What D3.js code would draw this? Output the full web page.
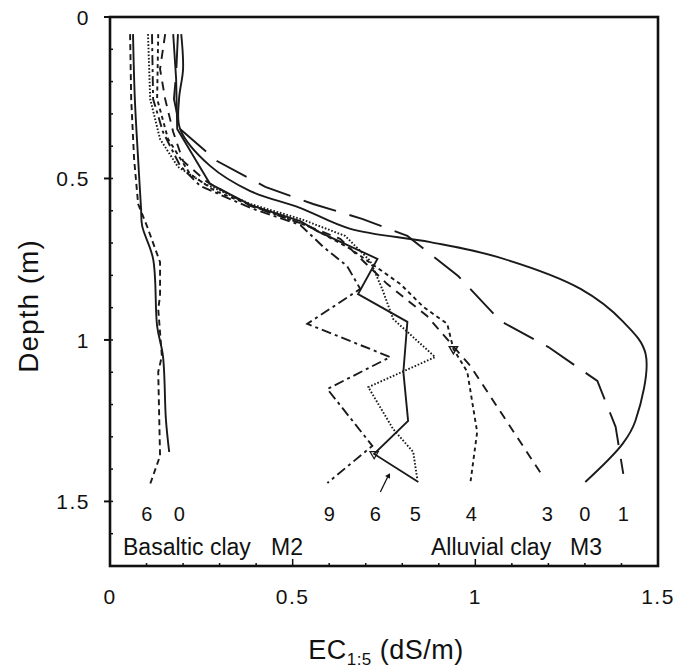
<!DOCTYPE html>
<html>
<head>
<meta charset="utf-8">
<script src="https://cdn.jsdelivr.net/npm/d3@7"></script>
<style>
  body { margin: 0; background: #fff; }
  text { font-family: "Liberation Sans", Arial, sans-serif; fill: #111; }
</style>
</head>
<body>
<div id="chart"></div>
<script>
// =======================
// Data: [EC1:5 (dS/m), depth (m)]
// =======================
const basalt0 = [[0.063,0.053],[0.068,0.254],[0.077,0.44],[0.085,0.594],[0.088,0.647],[0.118,0.749],
  [0.129,0.957],[0.145,1.05],[0.153,1.245],[0.162,1.347]];
const basalt6 = [[0.055,0.053],[0.058,0.254],[0.066,0.44],[0.077,0.579],[0.101,0.647],[0.137,0.759],
  [0.137,0.864],[0.132,0.904],[0.142,1.05],[0.132,1.099],[0.137,1.359],[0.11,1.446]];

const alluv0 = [[0.195,0.053],[0.2,0.161],[0.189,0.254],[0.192,0.347],[0.274,0.461],[0.384,0.539],
  [0.52,0.591],[0.658,0.656],[0.877,0.697],[1.06,0.743],[1.288,0.842],[1.405,0.944],[1.466,1.043],
  [1.438,1.251],[1.403,1.322],[1.301,1.44]];
const alluv1 = [[0.186,0.053],[0.181,0.176],[0.175,0.254],[0.192,0.347],[0.293,0.446],[0.425,0.526],
  [0.556,0.579],[0.69,0.625],[0.814,0.678],[0.953,0.802],[1.068,0.941],[1.2,1.022],[1.334,1.127],
  [1.384,1.269],[1.405,1.415]];
const alluv3 = [[0.151,0.053],[0.137,0.161],[0.151,0.254],[0.173,0.356],[0.2,0.446],[0.266,0.511],
  [0.384,0.585],[0.521,0.638],[0.63,0.687],[0.759,0.827],[0.868,0.926],[0.986,1.08],[1.082,1.245],
  [1.184,1.421]];
const alluv4 = [[0.132,0.053],[0.129,0.254],[0.159,0.378],[0.219,0.486],[0.288,0.539],[0.411,0.594],
  [0.548,0.65],[0.658,0.718],[0.795,0.827],[0.858,0.898],[0.923,0.95],[0.94,1.028],[0.978,1.099],
  [1.005,1.285],[0.986,1.446]];
const alluv5 = [[0.173,0.053],[0.181,0.192],[0.184,0.347],[0.233,0.44],[0.274,0.517],[0.384,0.582],
  [0.521,0.632],[0.567,0.663],[0.732,0.749],[0.679,0.858],[0.814,0.944],[0.803,1.099],[0.816,1.251],
  [0.723,1.353],[0.844,1.44]];
const alluv6 = [[0.104,0.053],[0.11,0.254],[0.137,0.378],[0.186,0.464],[0.26,0.517],[0.384,0.579],
  [0.521,0.625],[0.644,0.678],[0.712,0.755],[0.745,0.842],[0.775,0.935],[0.89,1.053],[0.707,1.146],
  [0.775,1.276],[0.83,1.347],[0.841,1.43]];
const alluv9 = [[0.115,0.053],[0.118,0.254],[0.145,0.356],[0.192,0.461],[0.247,0.523],[0.384,0.591],
  [0.521,0.644],[0.584,0.712],[0.649,0.771],[0.685,0.842],[0.54,0.95],[0.767,1.053],[0.595,1.152],
  [0.718,1.328],[0.595,1.443]];

// curve end labels (text, EC position)
const endLabels = [["6",0.101],["0",0.19],["9",0.6],["6",0.726],["5",0.836],["4",0.989],["3",1.197],["0",1.3],["1",1.405]];
const xTicks = [0, 0.5, 1, 1.5];
const yTicks = [0, 0.5, 1, 1.5];

// =======================
// Setup
// =======================
const width = 681, height = 668;
const svg = d3.select("#chart").append("svg")
  .attr("width", width).attr("height", height);

const x = d3.scaleLinear().domain([0, 1.5]).range([110, 658]);
const y = d3.scaleLinear().domain([0, 1.7]).range([17, 566]);

const line = d3.line().x(d => x(d[0])).y(d => y(d[1]));
const smooth = d3.line().x(d => x(d[0])).y(d => y(d[1])).curve(d3.curveCatmullRom.alpha(0.5));

// styles per series
const series = [
  { data: basalt0, dash: null, gen: smooth },
  { data: basalt6, dash: "6,4", gen: line },
  { data: alluv0, dash: null, gen: smooth },
  { data: alluv1, dash: "34,14", gen: line },
  { data: alluv3, dash: "9,7", gen: line },
  { data: alluv4, dash: "4,3.5", gen: line },
  { data: alluv5, dash: null, gen: line },
  { data: alluv6, dash: "1.6,1.8", gen: line },
  { data: alluv9, dash: "10,4,3,4", gen: line }
];

svg.append("g").selectAll("path")
  .data(series)
  .enter().append("path")
  .attr("d", d => d.gen(d.data))
  .attr("fill", "none")
  .attr("stroke", "#1a1a1a")
  .attr("stroke-width", 1.9)
  .attr("stroke-dasharray", d => d.dash);

// small markers seen on the original
svg.append("path")
  .attr("d", d3.symbol(d3.symbolTriangle, 30)())
  .attr("transform", `translate(${x(0.723)},${y(1.353)}) rotate(180)`)
  .attr("fill", "none").attr("stroke", "#1a1a1a").attr("stroke-width", 1.2);
svg.append("path")
  .attr("d", d3.symbol(d3.symbolTriangle, 30)())
  .attr("transform", `translate(${x(0.94)},${y(1.028)}) rotate(180)`)
  .attr("fill", "none").attr("stroke", "#1a1a1a").attr("stroke-width", 1.4);

// =======================
// Frame and ticks
// =======================
const frame = svg.append("g").attr("stroke", "#111").attr("fill", "none");
frame.append("rect")
  .attr("x", x(0)).attr("y", y(0))
  .attr("width", x(1.5) - x(0)).attr("height", y(1.7) - y(0))
  .attr("stroke-width", 2.6);

const minorX = d3.range(1, 15).map(i => i / 10);
frame.selectAll(".mx").data(minorX).enter().append("line")
  .attr("x1", d => x(d)).attr("x2", d => x(d))
  .attr("y1", y(1.7)).attr("y2", d => y(1.7) - (Math.round(d * 10) % 5 === 0 ? 7 : 3))
  .attr("stroke-width", 1.5);

const minorY = d3.range(1, 17).map(i => i / 10);
frame.selectAll(".my").data(minorY).enter().append("line")
  .attr("y1", d => y(d)).attr("y2", d => y(d))
  .attr("x1", x(0)).attr("x2", x(0) + 3)
  .attr("stroke-width", 1.5);

frame.selectAll(".ty").data(yTicks).enter().append("line")
  .attr("y1", d => y(d)).attr("y2", d => y(d))
  .attr("x1", x(0) - 6).attr("x2", x(0))
  .attr("stroke-width", 2);

// tick labels
svg.selectAll(".xl").data(xTicks).enter().append("text")
  .attr("x", d => x(d)).attr("y", 604)
  .attr("text-anchor", "middle")
  .attr("font-size", 21)
  .attr("letter-spacing", 1.5)
  .text(d => d);

svg.selectAll(".yl").data(yTicks).enter().append("text")
  .attr("x", 90).attr("y", d => y(d) + 8)
  .attr("text-anchor", "end")
  .attr("font-size", 21)
  .attr("letter-spacing", 1.5)
  .text(d => d);

// axis titles
svg.append("text")
  .attr("transform", "translate(38,306) rotate(-90)")
  .attr("text-anchor", "middle")
  .attr("font-size", 28)
  .attr("letter-spacing", 1)
  .text("Depth (m)");

const xt = svg.append("text")
  .attr("x", 386).attr("y", 659)
  .attr("text-anchor", "middle")
  .attr("font-size", 27)
  .attr("letter-spacing", 0.5);
xt.append("tspan").text("EC");
xt.append("tspan").attr("font-size", 17).attr("dy", 6).text("1:5");
xt.append("tspan").attr("dy", -6).text(" (dS/m)");

// =======================
// Curve labels and site names
// =======================
svg.selectAll(".el").data(endLabels).enter().append("text")
  .attr("x", d => x(d[1])).attr("y", 521)
  .attr("text-anchor", "middle")
  .attr("font-size", 20)
  .text(d => d[0]);

// arrow next to label 6
svg.append("line")
  .attr("x1", x(0.74)).attr("y1", 492)
  .attr("x2", x(0.76)).attr("y2", 477)
  .attr("stroke", "#111").attr("stroke-width", 1.3);
svg.append("path")
  .attr("d", d3.symbol(d3.symbolTriangle, 14)())
  .attr("transform", `translate(${x(0.762)},476) rotate(30)`)
  .attr("fill", "#111");

const sites = [["Basaltic clay", 123, "M2", 271], ["Alluvial clay", 431, "M3", 570]];
sites.forEach(s => {
  svg.append("text").attr("x", s[1]).attr("y", 555).attr("font-size", 23).text(s[0]);
  svg.append("text").attr("x", s[3]).attr("y", 555).attr("font-size", 23).text(s[2]);
});
</script>
</body>
</html>
